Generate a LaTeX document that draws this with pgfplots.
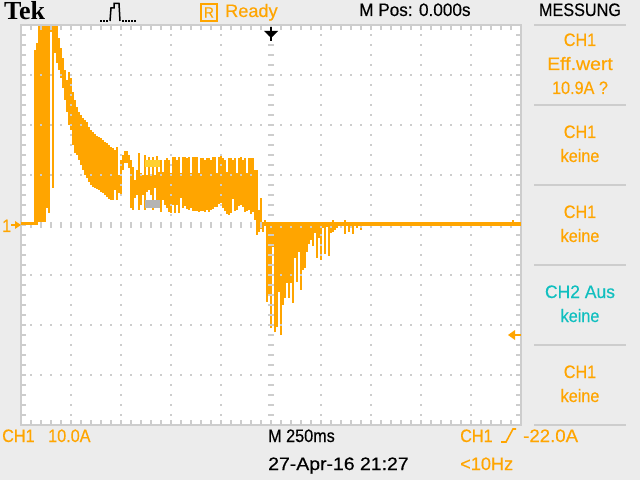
\documentclass[border=0pt]{standalone}
\usepackage{pgfplots}
\usepackage{pgfplotstable}
\usepackage{fontspec}
\pgfplotsset{compat=1.18}
\setmainfont[FakeStretch=0.9,FakeBold=0.35]{Liberation Sans}
\newfontfamily\tekfont{Liberation Serif}
\definecolor{bgc}{HTML}{ECECEC}
\definecolor{gridc}{HTML}{CDCDCD}
\definecolor{trace}{HTML}{FFA500}
\definecolor{teal2}{HTML}{10BFBF}
\pgfplotstableread{
t lo hi
-1180 0 35
-1170 0 36.4
-1160 0.6 41
-1150 0.6 41
-1140 0.6 41
-1130 0.6 41
-1120 3.4 41
-1110 2.4 41
-1100 38.6 41
-1090 7.4 41
-1080 34.4 41
-1070 32.4 41
-1060 31 37.4
-1050 29.4 35.4
-1040 27.4 33.4
-1030 25 31
-1020 22.6 29
-1010 20 30.6
-1000 19 29.4
-990 16 26.6
-980 14.4 25
-970 14 23.6
-960 13 22.6
-950 12 22
-940 11 21.4
-930 10 21
-920 9.4 20.6
-910 8.6 19.6
-900 8 19
-890 7.6 18.6
-880 7.4 18.2
-870 7.2 17.8
-860 7 17.6
-850 6.6 17.4
-840 6.4 17
-830 6 16.6
-820 5.6 16.4
-810 5.2 16
-800 5 15.6
-790 5 15.4
-780 7 15
-770 5 15.6
-760 6.4 10
-750 6 13
-740 11 14
-730 12.4 14.8
-720 12.4 14.8
-710 11.4 14
-700 3.4 13
-690 3 11.6
-680 5.4 9
-670 6 11
-660 3 14.4
-650 4 10.4
-640 6 10
-630 3 14
-620 6.6 10
-610 7 13.6
-600 6 10
-590 3 13.6
-580 7.4 10
-570 4 13.8
-560 5 10.6
-550 2.6 13
-540 5 10.6
-530 4 13
-520 3.4 13.4
-510 2.6 13
-500 2.4 10.4
-490 4 13.6
-480 2.4 13.6
-470 4 13
-460 2.4 13.6
-450 5.4 10.4
-440 3.4 13.6
-430 3.8 13.6
-420 3.2 13.4
-410 3 13.6
-400 3.4 10.4
-390 2.8 13.6
-380 2.8 13.6
-370 2.8 13.6
-360 2.6 10.4
-350 2.8 13.4
-340 2.8 13.4
-330 2.6 13
-320 3 13.4
-310 2.6 13.4
-300 3 13
-290 3.2 13.6
-280 3.6 13.6
-270 3.6 10.4
-260 4.2 13.6
-250 4.4 14
-240 3.4 13.4
-230 2.8 13
-220 2.2 10.6
-210 2 13.4
-200 2.4 13.4
-190 5.2 13
-180 2.8 13.4
-170 3 10.4
-160 3.8 13.4
-150 4 13.6
-140 3.6 13
-130 2.6 13.4
-120 2.8 10.4
-110 3 13.4
-100 2.2 13.4
-90 2.6 13.4
-80 1 11
-70 -2 11
-60 -1.4 3
-50 -0.8 5.4
-40 -1.4 0.6
-30 -0.2 1
-20 -15.4 0.6
-10 -14 0.6
0 -20.6 0.6
10 -4.4 0.6
20 -21.4 0.6
30 -20.4 0.6
40 -13.4 0.6
50 -22 0.6
60 -16 0.6
70 -14.6 0.6
80 -11.6 0.6
90 -14.6 0.6
100 -11.6 0.6
110 -15.6 0.6
120 -6.6 0.6
130 -11.4 0.6
140 -5.4 0.6
150 -13 0.6
160 -9 0.6
170 -8.6 0.6
180 -5.4 0.6
190 -3.8 0.6
200 -3 0.6
210 -4.2 0.6
220 -1.6 0.6
230 -6.6 0.6
240 -2.6 0.6
250 -7 0.6
260 -0.6 0.6
270 -5.8 0.6
280 -0.4 0.6
290 -6.2 0.6
300 -1.6 0.6
310 -1.4 1
320 -1 0.6
330 -0.6 0.6
370 -1.8 1
390 -1.4 0.6
410 -1.8 0.6
430 -0.6 0.6
450 -1 0.6
1210 0 1
}\tracedata
\newcommand\txt[4][trace]{\node[anchor=base west,inner sep=0pt,text=#1,font=\fontsize{18}{18}\selectfont] at (#2,#3-1) {#4};}
\newcommand\ctr[4][trace]{\node[anchor=base,inner sep=0pt,text=#1,font=\fontsize{18}{18}\selectfont] at (#2,#3-1) {#4};}
\begin{document}
\begin{tikzpicture}[x=1pt,y=1pt]
\useasboundingbox (0,0) rectangle (640,480);
\fill[bgc] (0,0) rectangle (640,480);
\begin{axis}[
  at={(21pt,55pt)},anchor=south west,
  width=500pt,height=400pt,scale only axis,
  xmin=-1250,xmax=1250,ymin=-40,ymax=40,
  xtick distance=250,ytick distance=10,
  xticklabels={},yticklabels={},
  major tick length=0pt,
  grid=major,
  major grid style={gridc,line width=2pt,dash pattern=on 2pt off 8pt,dash phase=1pt},
  axis line style={gridc,line width=2pt},
  axis background/.style={fill=white},
  axis on top=true,
]
\addplot[draw=none,mark=none,forget plot,
  error bars/.cd,y dir=plus,y explicit,error mark=none,
  error bar style={line width=2pt,color=trace}]
  table[x=t,y=lo,y error plus expr=\thisrow{hi}-\thisrow{lo}] {\tracedata};
\addplot[color={rgb,255:red,255;green,208;blue,48},line width=7pt,forget plot] coordinates {(-630,12.3)(-555,12.3)};
\addplot[color={rgb,255:red,180;green,180;blue,180},line width=8pt,forget plot] coordinates {(-630,4.2)(-555,4.2)};
\end{axis}
\begin{scope}[shift={(0,480)},y=-1pt]
% graticule ticks
\foreach \v in {35,45,...,415}{
  \fill[gridc] (22,\v-1) rectangle (26,\v+1);
  \fill[gridc] (516,\v-1) rectangle (520,\v+1);
  \fill[gridc] (268,\v-1) rectangle (274,\v+1);
}
\foreach \u in {31,41,...,511}{
  \fill[gridc] (\u-1,26) rectangle (\u+1,30);
  \fill[gridc] (\u-1,420) rectangle (\u+1,424);
  \fill[gridc] (\u-1,222) rectangle (\u+1,228);
}
% trigger markers
\fill[black] (264,31) -- (278,31) -- (271,38) -- cycle;
\fill[black] (270,27) rectangle (272,41);
\fill[trace] (508,335) -- (515,330) -- (515,340) -- cycle;
\fill[trace] (514,334) rectangle (521,336);
\fill[trace] (21,225) -- (15,221) -- (15,229) -- cycle;
\fill[trace] (11,224) rectangle (16,226);
\node[anchor=base west,inner sep=0pt,text=trace,font=\fontsize{18}{18}\selectfont] at (2,232) {1};
% header
\node[anchor=base west,inner sep=0pt,font=\tekfont\bfseries\fontsize{26}{26}\selectfont] at (4,20) {Tek};
\draw[black,line width=1.5pt] (110,21) -- (111,8) -- (114,8) -- (114,3.5) -- (119,3.5) -- (120,21);
\foreach \u in {101,104,107,123,126,129,132,135}{\fill[black] (\u-1,20) rectangle (\u+1,22);}
\draw[trace,line width=2pt] (201,4) rectangle (217,21);
\node[anchor=center,inner sep=0pt,text=trace,font=\fontsize{15}{15}\selectfont] at (209,12.5) {R};
\txt{225}{18}{\scalebox{1.12}[1]{Ready}}
\txt[black]{359}{17}{\scalebox{1.06}[1]{M Pos: 0.000s}}
\ctr[black]{580}{17}{MESSUNG}
% menu
\foreach \v in {25,105,185,265,345,425}{\fill[gridc] (534,\v-1) rectangle (626,\v+1);}
\ctr{580}{47}{CH1}
\ctr{580}{71}{\scalebox{1.2}[1]{Eff.wert}}
\ctr{580}{95}{10.9A ?}
\ctr{580}{139}{CH1}
\ctr{580}{163}{keine}
\ctr{580}{219}{CH1}
\ctr{580}{243}{keine}
\ctr[teal2]{580}{299}{\scalebox{1.08}[1]{CH2 Aus}}
\ctr[teal2]{580}{323}{keine}
\ctr{580}{379}{CH1}
\ctr{580}{403}{keine}
% footer
\txt{2}{443}{CH1}
\txt{48}{443}{10.0A}
\txt[black]{268}{443}{M 250ms}
\txt[black]{268}{471}{\scalebox{1.2}[1]{27-Apr-16 21:27}}
\txt{460}{443}{CH1}
\draw[trace,line width=1.6pt] (501,442) -- (506,442) -- (513,429) -- (516,429);
\txt{523}{443}{\scalebox{1.15}[1]{-22.0A}}
\txt{460}{471}{\scalebox{1.12}[1]{<10Hz}}
\end{scope}
\begin{axis}[
  at={(21pt,55pt)},anchor=south west,
  width=500pt,height=400pt,scale only axis,
  xmin=-1250,xmax=1250,ymin=-40,ymax=40,
  hide axis,
]
\addplot[trace,line width=3pt,forget plot] coordinates {(-1250,0.2)(-1180,0.2)};
\addplot[trace,line width=4pt,forget plot] coordinates {(-30,0.2)(1250,0.2)};
\end{axis}
\end{tikzpicture}
\end{document}
